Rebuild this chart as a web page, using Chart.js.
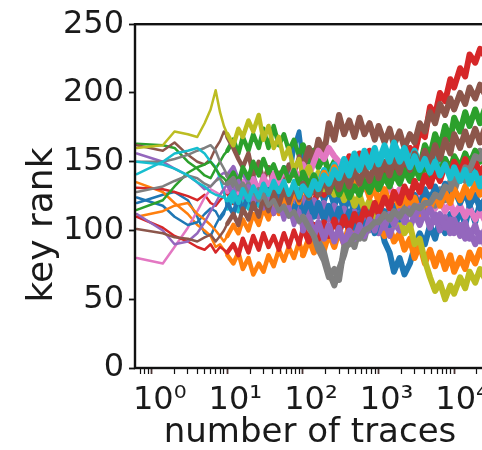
<!DOCTYPE html>
<html lang="en">
<head>
  <meta charset="UTF-8">
  <title>Key rank vs number of traces</title>
  <style>
    html, body { margin: 0; padding: 0; overflow: hidden; background: #fff; }
    #wrap { width: 500px; height: 450px; }
  </style>
  <script src="https://cdn.jsdelivr.net/npm/chart.js"></script>
</head>
<body>
  <div id="wrap"><canvas id="rankChart" width="500" height="450"></canvas></div>

  <script>
    // x positions (number of traces) shared by every run
    const traces = [0.635, 1.4, 2, 3, 4, 5, 6, 7, 8, 9,
      10, 12, 14, 16, 19, 22, 26, 30, 35, 41,
      48, 56, 65, 76, 89, 100, 120, 140, 160, 190,
      220, 260, 300, 350, 410, 480, 560, 650, 760, 890,
      1000, 1200, 1400, 1600, 1900, 2200, 2600, 3000, 3500, 4100,
      4800, 5600, 6500, 7600, 8900, 10000, 12000, 14000, 16000, 19000,
      22000, 26000];

    const yTicks = [0, 50, 100, 150, 200, 250];
    const xMajor = [1, 10, 100, 1000, 10000];
    const xMajorLabels = ['10⁰', '10¹', '10²', '10³', '10⁴'];

    // key rank per run
    const blue1 = [120,126,128,122,110,98,96,104,110,114,
      118,128,120,132,124,136,126,138,128,140,
      130,146,136,160,172,150,140,128,136,122,
      132,118,128,114,126,112,122,108,118,104,
      112,92,84,70,80,68,76,88,98,90,
      104,94,108,98,112,100,116,104,118,106,
      120,110];
    const orange1 = [135,128,120,112,104,100,96,88,90,86,
      82,76,84,72,80,68,76,70,82,74,
      86,78,88,80,92,82,94,84,96,86,
      98,88,100,90,104,94,108,98,110,100,
      106,96,102,92,98,86,94,80,90,76,
      86,74,84,72,82,70,80,72,84,76,
      86,78];
    const green1 = [163,162,160,150,145,140,138,145,150,155,
      158,166,156,168,158,170,160,174,160,176,
      162,170,158,166,154,162,150,158,146,154,
      142,150,138,146,134,142,132,140,128,138,
      130,140,132,144,136,148,140,154,146,162,
      154,170,160,176,166,182,172,186,176,188,
      178,190];
    const red1 = [131,130,128,125,122,126,120,118,122,125,
      128,120,130,118,128,116,126,114,124,112,
      122,110,120,108,118,112,124,118,132,126,
      140,134,148,140,154,144,156,146,158,148,
      146,138,150,142,154,146,160,156,172,168,
      190,184,200,194,210,204,218,212,228,222,
      232,226];
    const purple1 = [156,150,145,140,135,130,132,136,140,142,
      140,146,136,144,132,140,128,136,124,132,
      120,128,116,126,114,124,112,122,110,120,
      108,118,106,116,104,114,102,112,100,110,
      98,108,96,106,100,110,102,112,104,114,
      102,112,100,110,98,108,96,106,94,104,
      92,102];
    const brown1 = [162,158,164,155,150,148,152,160,165,172,
      168,160,152,146,156,140,150,136,146,132,
      142,136,148,140,154,146,160,150,166,156,
      178,166,184,170,180,168,182,170,178,166,
      176,164,174,162,172,160,170,164,178,172,
      186,178,192,184,196,188,200,192,204,196,
      206,198];
    const pink1 = [80,76,88,102,114,124,130,128,126,130,
      128,134,126,136,128,138,130,140,132,142,
      134,144,136,146,138,148,140,150,158,152,
      160,154,150,144,140,134,138,130,136,128,
      134,126,132,124,130,122,128,120,126,118,
      124,116,122,114,120,112,118,110,116,108,
      114,106];
    const gray1 = [150,150,152,155,158,160,162,158,150,145,
      140,132,138,128,134,124,130,120,126,116,
      122,112,118,108,114,104,110,100,92,84,
      70,60,72,82,96,88,102,94,108,100,
      112,104,116,108,118,110,120,112,122,114,
      126,118,130,122,136,128,142,136,150,146,
      158,152];
    const olive1 = [160,162,172,170,168,178,188,202,186,176,
      170,162,174,168,180,172,184,166,176,160,
      168,152,160,144,152,138,146,134,142,130,
      138,126,134,122,130,118,126,114,122,110,
      118,108,114,104,110,98,104,90,94,78,
      66,56,62,50,60,54,66,58,70,62,
      72,64];
    const cyan1 = [141,150,156,158,160,156,150,146,138,128,
      116,124,114,126,116,128,118,130,120,132,
      122,134,124,136,126,138,128,140,132,144,
      136,148,140,152,144,156,146,158,148,160,
      150,162,152,164,154,160,150,158,148,156,
      146,154,144,152,142,150,140,148,138,146,
      136,144];
    const blue2 = [124,118,110,104,106,112,116,114,108,112,
      120,112,124,114,126,116,128,118,130,120,
      128,118,126,114,124,112,122,110,120,108,
      118,106,116,104,114,102,112,100,110,98,
      108,114,104,118,108,122,112,126,116,130,
      120,132,122,134,124,130,120,128,118,126,
      116,124];
    const orange2 = [110,114,118,120,112,108,104,100,96,92,
      96,104,98,108,100,112,104,116,108,120,
      112,124,116,128,120,132,124,136,128,142,
      134,146,136,144,132,140,128,136,124,132,
      120,130,118,128,116,126,114,124,112,122,
      116,126,118,128,120,130,122,132,124,134,
      126,136];
    const green2 = [115,122,132,142,146,148,150,145,140,138,
      135,142,134,146,138,150,140,152,142,148,
      138,146,136,144,134,142,132,140,130,138,
      128,136,126,134,124,132,126,136,128,138,
      130,140,132,142,134,144,136,146,138,148,
      140,150,142,152,144,154,146,156,148,158,
      150,160];
    const red2 = [110,102,96,92,88,86,90,84,88,86,
      84,90,82,94,84,96,86,98,88,96,
      86,98,88,100,90,102,92,104,94,106,
      96,108,98,110,100,112,104,116,108,120,
      112,124,116,128,120,132,124,136,128,140,
      132,144,136,148,140,150,142,152,144,150,
      142,148];
    const purple2 = [112,100,90,92,98,106,114,120,126,130,
      134,126,136,124,132,120,128,116,124,112,
      120,108,118,104,114,100,110,96,106,94,
      104,92,102,90,100,94,104,96,108,100,
      110,102,112,104,114,106,116,108,118,110,
      116,106,112,102,108,98,104,94,100,90,
      98,88];
    const brown2 = [101,98,95,94,92,95,97,92,96,100,
      105,112,104,116,108,120,110,124,114,128,
      118,130,120,132,122,134,124,136,126,138,
      128,140,130,142,132,144,134,146,136,148,
      138,150,140,152,142,154,144,156,146,158,
      148,162,152,166,156,170,160,172,162,174,
      164,176];
    const gray2 = [128,132,136,140,138,134,132,136,138,134,
      134,138,130,134,126,130,122,126,118,122,
      114,118,110,114,106,110,102,96,86,78,
      66,72,64,88,90,96,94,100,102,106,
      106,112,108,114,110,116,112,118,116,120,
      120,126,124,132,130,138,136,146,144,154,
      152,160];
    const cyan2 = [150,148,145,140,135,132,128,126,125,124,
      122,128,120,130,122,132,124,134,126,136,
      128,136,126,134,124,132,126,136,130,140,
      134,144,138,148,140,152,144,154,146,156,
      148,158,150,160,150,156,146,154,144,152,
      142,150,140,148,138,146,136,144,134,142,
      132,140];

    // plotting order, later runs are drawn on top
    const runs = [blue1, orange1, green1, red1, purple1, brown1, pink1, gray1, olive1, cyan1,
                  blue2, orange2, green2, red2, purple2, brown2, gray2, cyan2];
    const runColors = ['#1f77b4', '#ff7f0e', '#2ca02c', '#d62728', '#9467bd',
                       '#8c564b', '#e377c2', '#7f7f7f', '#bcbd22', '#17becf',
                       '#1f77b4', '#ff7f0e', '#2ca02c', '#d62728', '#9467bd',
                       '#8c564b', '#7f7f7f', '#17becf'];

    const FONT = '"DejaVu Sans", sans-serif';
    const INK = '#1a1a1a';
    Chart.defaults.font.family = FONT;

    // log ticks: majors plus 2..9 minors
    const xTickValues = [0.7, 0.8, 0.9];
    xMajor.forEach(m => {
      for (let k = 1; k <= 9; k++) if (m * k < 25600) xTickValues.push(m * k);
    });

    // the noisy runs get denser (thicker) as traces pile up
    function widthAt(x) {
      if (x < 10) return 2.5;
      if (x < 100) return 4.5;
      return 6;
    }

    const datasets = runs.map((vals, i) => ({
      data: traces.map((t, j) => ({ x: t, y: vals[j] })),
      borderColor: runColors[i],
      borderWidth: 2.5,
      borderJoinStyle: 'round',
      borderCapStyle: 'round',
      pointRadius: 0,
      tension: 0,
      clip: 0,
      order: -i,
      segment: {
        borderWidth: ctx => widthAt(ctx.p0.parsed.x)
      }
    }));

    const frame = {
      id: 'frame',
      afterDatasetsDraw(chart) {
        const { ctx, chartArea: a } = chart;
        ctx.save();
        ctx.strokeStyle = '#111';
        ctx.lineWidth = 2.4;
        ctx.strokeRect(a.left, a.top, a.right - a.left, a.bottom - a.top);
        ctx.restore();
      }
    };

    const yLabel = {
      id: 'yLabel',
      afterDraw(chart) {
        const ctx = chart.ctx;
        ctx.save();
        ctx.translate(52, 225);
        ctx.rotate(-Math.PI / 2);
        ctx.font = '36px ' + FONT;
        ctx.fillStyle = INK;
        ctx.textAlign = 'center';
        ctx.textBaseline = 'alphabetic';
        ctx.fillText('key rank', 0, 0);
        ctx.restore();
      }
    };

    new Chart(document.getElementById('rankChart'), {
      type: 'line',
      data: { datasets },
      plugins: [frame, yLabel],
      options: {
        responsive: false,
        animation: false,
        events: [],
        layout: { padding: { top: 23, right: 15, bottom: 0, left: 0 } },
        plugins: { legend: { display: false }, tooltip: { enabled: false } },
        scales: {
          x: {
            type: 'logarithmic',
            min: 0.635,
            max: 25600,
            afterBuildTicks: s => { s.ticks = xTickValues.map(v => ({ value: v, major: xMajor.includes(v) })); },
            afterFit: s => { s.height = 82; },
            ticks: {
              autoSkip: false, maxRotation: 0, minRotation: 0,
              padding: 7, labelOffset: 8, color: INK,
              font: { size: 32 },
              callback: v => {
                const k = xMajor.indexOf(v);
                return k >= 0 ? xMajorLabels[k] : '';
              }
            },
            grid: {
              drawOnChartArea: false, tickLength: 6,
              tickColor: c => (c.tick && c.tick.major) ? '#4a3434' : '#111',
              tickWidth: c => (c.tick && c.tick.major) ? 1.8 : 1.2
            },
            border: { display: false },
            title: {
              display: true, text: 'number of traces', color: INK,
              font: { size: 34, lineHeight: 1 }, padding: { top: 0, bottom: 0 }
            }
          },
          y: {
            min: 0,
            max: 250,
            afterBuildTicks: s => { s.ticks = yTicks.map(v => ({ value: v })); },
            afterFit: s => { s.width = 135; },
            ticks: { padding: 5, color: INK, font: { size: 32 } },
            grid: { drawOnChartArea: false, tickLength: 6, tickColor: '#111', tickWidth: 1.8 },
            border: { display: false }
          }
        }
      }
    });
  </script>
</body>
</html>
